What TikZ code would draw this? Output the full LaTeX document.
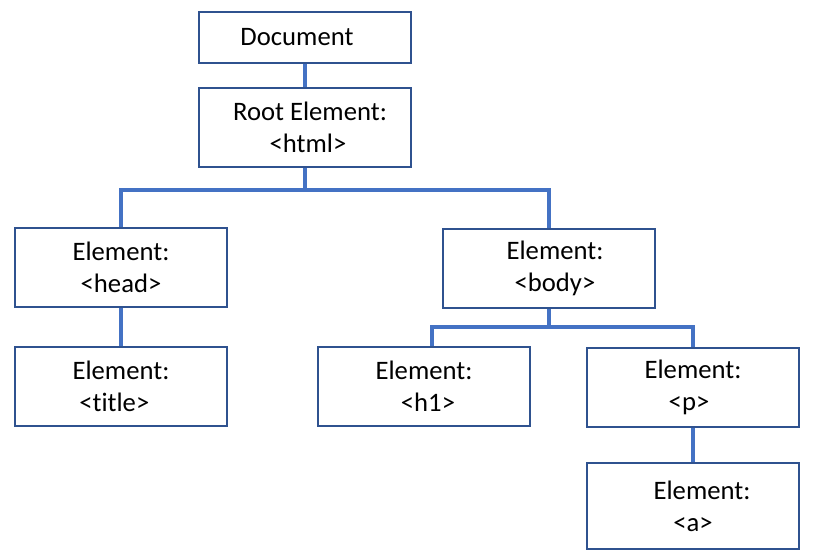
\documentclass[tikz,border=0pt]{standalone}
\usepackage{fontspec}
\setmainfont{Carlito}
\definecolor{boxblue}{HTML}{2F528F}
\definecolor{lineblue}{HTML}{4472C4}
\newcommand\offs[2]{\hspace*{#1}#2\hspace*{-#1}}
\begin{document}
\begin{tikzpicture}[x=0.75pt,y=-0.75pt,
  box/.style={draw=boxblue,line width=1.5pt,fill=white,minimum width=159pt,minimum height=59.25pt,align=center,inner sep=0pt,font=\fontsize{20}{24}\selectfont},
  conn/.style={draw=lineblue,line width=2.4pt}]
\useasboundingbox (0,0) rectangle (816,557);
\fill[white] (0,0) rectangle (816,557);
\node[box,minimum height=38.25pt] (doc) at (305,37.5) {\offs{-6pt}{Document}};
\node[box] (root) at (305,127.5) {\offs{3.75pt}{Root Element:}\\\offs{2.25pt}{<html>}};
\node[box] (head) at (121,267.5) {Element:\\<head>};
\node[box] (body) at (549,268.5) {\offs{4.5pt}{Element:}\\\offs{4.5pt}{<body>}};
\node[box] (title) at (121,386.5) {Element:\\\offs{-5pt}{<t\kern0pt itle>}};
\node[box] (h1) at (424,386.5) {Element:\\\offs{3pt}{<h1>}};
\node[box] (p) at (693,387.5) {Element:\\\offs{-3pt}{<p>}};
\node[box,minimum height=64.5pt] (a) at (693,506) {\offs{6.75pt}{Element:}\\<a>};
\coordinate (j1) at (305,190);
\coordinate (j2) at (549,327);
\draw[conn] (doc.south) -- (root.north);
\draw[conn] (root.south) -- (j1);
\draw[conn] (head.north) |- (j1) -| (body.north);
\draw[conn] (head.south) -- (title.north);
\draw[conn] (body.south) -- (j2);
\draw[conn] ([xshift=6pt]h1.north) |- (j2) -| (p.north);
\draw[conn] (p.south) -- (a.north);
\end{tikzpicture}
\end{document}
